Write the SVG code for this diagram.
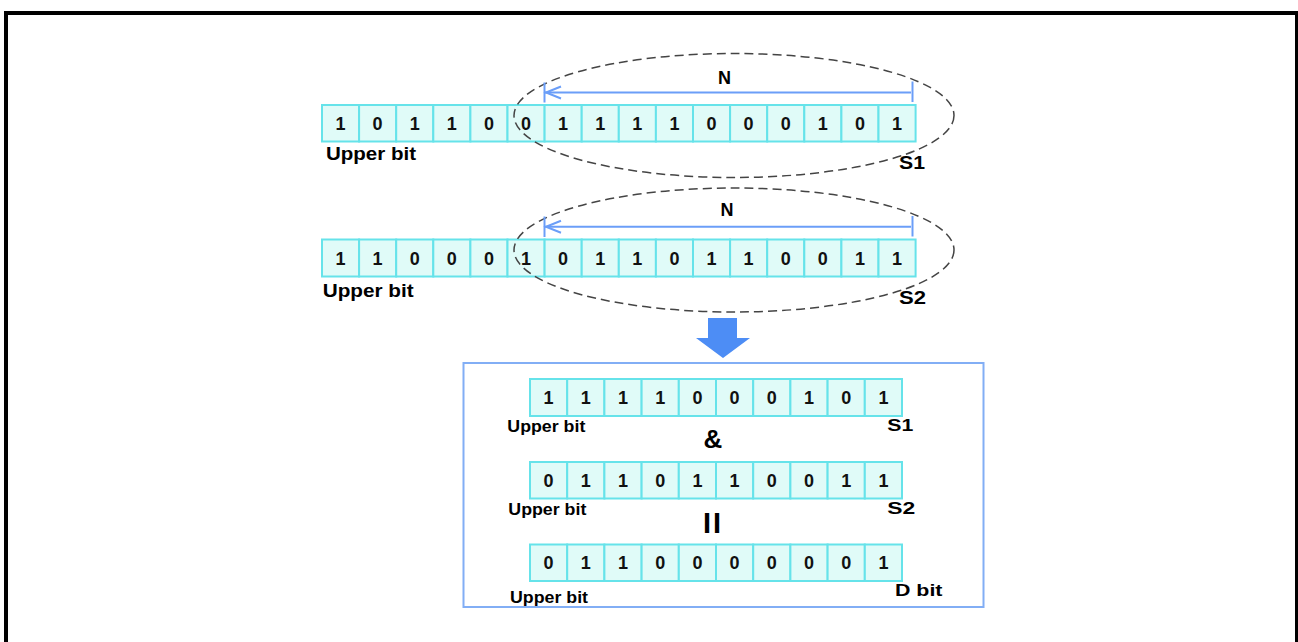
<svg xmlns="http://www.w3.org/2000/svg" width="1298" height="642" viewBox="0 0 1298 642">
<style>
.c{fill:#e0fbf8;stroke:#66e3ea;stroke-width:2}
.d{font-family:"Liberation Sans",Arial,sans-serif;font-weight:bold;font-size:18px;fill:#111;text-anchor:middle}
.l{font-family:"Liberation Sans",Arial,sans-serif;font-weight:bold;fill:#000}
.el{fill:none;stroke:#444;stroke-width:1.5;stroke-dasharray:9 5}
.bl{fill:none;stroke:#6b9ef8;stroke-width:2}
</style>
<rect x="6" y="13" width="1291" height="640" fill="#fff" stroke="#000" stroke-width="4"/>

<g id="row-top-1">
<rect class="c" x="322" y="105" width="37.1" height="36.5"/><rect class="c" x="359.1" y="105" width="37.1" height="36.5"/><rect class="c" x="396.2" y="105" width="37.1" height="36.5"/><rect class="c" x="433.3" y="105" width="37.1" height="36.5"/><rect class="c" x="470.4" y="105" width="37.1" height="36.5"/><rect class="c" x="507.5" y="105" width="37.1" height="36.5"/><rect class="c" x="544.6" y="105" width="37.1" height="36.5"/><rect class="c" x="581.7" y="105" width="37.1" height="36.5"/><rect class="c" x="618.8" y="105" width="37.1" height="36.5"/><rect class="c" x="655.9" y="105" width="37.1" height="36.5"/><rect class="c" x="693" y="105" width="37.1" height="36.5"/><rect class="c" x="730.1" y="105" width="37.1" height="36.5"/><rect class="c" x="767.2" y="105" width="37.1" height="36.5"/><rect class="c" x="804.3" y="105" width="37.1" height="36.5"/><rect class="c" x="841.4" y="105" width="37.1" height="36.5"/><rect class="c" x="878.5" y="105" width="37.1" height="36.5"/>
<text class="d" y="130"><tspan x="340.5">1</tspan><tspan x="377.6">0</tspan><tspan x="414.7">1</tspan><tspan x="451.8">1</tspan><tspan x="488.9">0</tspan><tspan x="526">0</tspan><tspan x="563.1">1</tspan><tspan x="600.2">1</tspan><tspan x="637.3">1</tspan><tspan x="674.4">1</tspan><tspan x="711.5">0</tspan><tspan x="748.6">0</tspan><tspan x="785.7">0</tspan><tspan x="822.8">1</tspan><tspan x="859.9">0</tspan><tspan x="897">1</tspan></text>
<text class="l" x="326" y="160" font-size="18" textLength="90" lengthAdjust="spacingAndGlyphs">Upper bit</text>
<text class="l" x="899" y="169" font-size="18" textLength="26" lengthAdjust="spacingAndGlyphs">S1</text>
</g>

<g id="range-1">
<ellipse class="el" cx="734" cy="115.5" rx="220" ry="62"/>
<line class="bl" x1="545" y1="92.5" x2="911" y2="92.5"/>
<line class="bl" x1="544.5" y1="82.5" x2="544.5" y2="102.5"/>
<line class="bl" x1="912.5" y1="81.5" x2="912.5" y2="102"/>
<polyline class="bl" points="561,86.5 546,92.5 561,98.5"/>
<text class="l" x="724.5" y="84" font-size="18" text-anchor="middle">N</text>
</g>

<g id="row-top-2">
<rect class="c" x="322" y="239.5" width="37.1" height="37"/><rect class="c" x="359.1" y="239.5" width="37.1" height="37"/><rect class="c" x="396.2" y="239.5" width="37.1" height="37"/><rect class="c" x="433.3" y="239.5" width="37.1" height="37"/><rect class="c" x="470.4" y="239.5" width="37.1" height="37"/><rect class="c" x="507.5" y="239.5" width="37.1" height="37"/><rect class="c" x="544.6" y="239.5" width="37.1" height="37"/><rect class="c" x="581.7" y="239.5" width="37.1" height="37"/><rect class="c" x="618.8" y="239.5" width="37.1" height="37"/><rect class="c" x="655.9" y="239.5" width="37.1" height="37"/><rect class="c" x="693" y="239.5" width="37.1" height="37"/><rect class="c" x="730.1" y="239.5" width="37.1" height="37"/><rect class="c" x="767.2" y="239.5" width="37.1" height="37"/><rect class="c" x="804.3" y="239.5" width="37.1" height="37"/><rect class="c" x="841.4" y="239.5" width="37.1" height="37"/><rect class="c" x="878.5" y="239.5" width="37.1" height="37"/>
<text class="d" y="264.5"><tspan x="340.5">1</tspan><tspan x="377.6">1</tspan><tspan x="414.7">0</tspan><tspan x="451.8">0</tspan><tspan x="488.9">0</tspan><tspan x="526">1</tspan><tspan x="563.1">0</tspan><tspan x="600.2">1</tspan><tspan x="637.3">1</tspan><tspan x="674.4">0</tspan><tspan x="711.5">1</tspan><tspan x="748.6">1</tspan><tspan x="785.7">0</tspan><tspan x="822.8">0</tspan><tspan x="859.9">1</tspan><tspan x="897">1</tspan></text>
<text class="l" x="322.7" y="296.5" font-size="18" textLength="91" lengthAdjust="spacingAndGlyphs">Upper bit</text>
<text class="l" x="899" y="304" font-size="18" textLength="27" lengthAdjust="spacingAndGlyphs">S2</text>
</g>

<g id="range-2">
<ellipse class="el" cx="734" cy="250" rx="220" ry="62"/>
<line class="bl" x1="545" y1="226.7" x2="911" y2="226.7"/>
<line class="bl" x1="544.5" y1="216.5" x2="544.5" y2="237"/>
<line class="bl" x1="912.5" y1="216" x2="912.5" y2="236.5"/>
<polyline class="bl" points="561,220.7 546,226.7 561,232.7"/>
<text class="l" x="727" y="216" font-size="18" text-anchor="middle">N</text>
</g>

<g id="down-arrow">
<polygon points="708,318 737,318 737,338 750,338 723,358 696,338 708,338" fill="#4d8df5"/>
</g>

<g id="result-box">
<rect x="463.5" y="363" width="520" height="244" fill="#fff" stroke="#82aef5" stroke-width="2"/>
</g>

<g id="row-s1">
<rect class="c" x="530" y="379" width="37.2" height="37"/><rect class="c" x="567.2" y="379" width="37.2" height="37"/><rect class="c" x="604.4" y="379" width="37.2" height="37"/><rect class="c" x="641.6" y="379" width="37.2" height="37"/><rect class="c" x="678.8" y="379" width="37.2" height="37"/><rect class="c" x="716" y="379" width="37.2" height="37"/><rect class="c" x="753.2" y="379" width="37.2" height="37"/><rect class="c" x="790.4" y="379" width="37.2" height="37"/><rect class="c" x="827.6" y="379" width="37.2" height="37"/><rect class="c" x="864.8" y="379" width="37.2" height="37"/>
<text class="d" y="404"><tspan x="548.6">1</tspan><tspan x="585.8">1</tspan><tspan x="623">1</tspan><tspan x="660.2">1</tspan><tspan x="697.4">0</tspan><tspan x="734.6">0</tspan><tspan x="771.8">0</tspan><tspan x="809">1</tspan><tspan x="846.2">0</tspan><tspan x="883.4">1</tspan></text>
<text class="l" x="507.3" y="431.5" font-size="16" textLength="78" lengthAdjust="spacingAndGlyphs">Upper bit</text>
<text class="l" x="887.3" y="431" font-size="16" textLength="26" lengthAdjust="spacingAndGlyphs">S1</text>
</g>

<g id="and-sign">
<text class="l" x="713" y="448" font-size="26" text-anchor="middle">&amp;</text>
</g>

<g id="row-s2">
<rect class="c" x="530" y="462" width="37.2" height="36.5"/><rect class="c" x="567.2" y="462" width="37.2" height="36.5"/><rect class="c" x="604.4" y="462" width="37.2" height="36.5"/><rect class="c" x="641.6" y="462" width="37.2" height="36.5"/><rect class="c" x="678.8" y="462" width="37.2" height="36.5"/><rect class="c" x="716" y="462" width="37.2" height="36.5"/><rect class="c" x="753.2" y="462" width="37.2" height="36.5"/><rect class="c" x="790.4" y="462" width="37.2" height="36.5"/><rect class="c" x="827.6" y="462" width="37.2" height="36.5"/><rect class="c" x="864.8" y="462" width="37.2" height="36.5"/>
<text class="d" y="486.8"><tspan x="548.6">0</tspan><tspan x="585.8">1</tspan><tspan x="623">1</tspan><tspan x="660.2">0</tspan><tspan x="697.4">1</tspan><tspan x="734.6">1</tspan><tspan x="771.8">0</tspan><tspan x="809">0</tspan><tspan x="846.2">1</tspan><tspan x="883.4">1</tspan></text>
<text class="l" x="508.3" y="515" font-size="16" textLength="78" lengthAdjust="spacingAndGlyphs">Upper bit</text>
<text class="l" x="887.3" y="514" font-size="16" textLength="28" lengthAdjust="spacingAndGlyphs">S2</text>
</g>

<g id="equals-sign">
<text class="l" x="703" y="533" font-size="29" letter-spacing="2">II</text>
</g>

<g id="row-d">
<rect class="c" x="530" y="544.5" width="37.2" height="36.5"/><rect class="c" x="567.2" y="544.5" width="37.2" height="36.5"/><rect class="c" x="604.4" y="544.5" width="37.2" height="36.5"/><rect class="c" x="641.6" y="544.5" width="37.2" height="36.5"/><rect class="c" x="678.8" y="544.5" width="37.2" height="36.5"/><rect class="c" x="716" y="544.5" width="37.2" height="36.5"/><rect class="c" x="753.2" y="544.5" width="37.2" height="36.5"/><rect class="c" x="790.4" y="544.5" width="37.2" height="36.5"/><rect class="c" x="827.6" y="544.5" width="37.2" height="36.5"/><rect class="c" x="864.8" y="544.5" width="37.2" height="36.5"/>
<text class="d" y="569.3"><tspan x="548.6">0</tspan><tspan x="585.8">1</tspan><tspan x="623">1</tspan><tspan x="660.2">0</tspan><tspan x="697.4">0</tspan><tspan x="734.6">0</tspan><tspan x="771.8">0</tspan><tspan x="809">0</tspan><tspan x="846.2">0</tspan><tspan x="883.4">1</tspan></text>
<text class="l" x="510" y="603.3" font-size="16" textLength="78" lengthAdjust="spacingAndGlyphs">Upper bit</text>
<text class="l" x="895" y="596" font-size="17" textLength="47.5" lengthAdjust="spacingAndGlyphs">D bit</text>
</g>
</svg>
